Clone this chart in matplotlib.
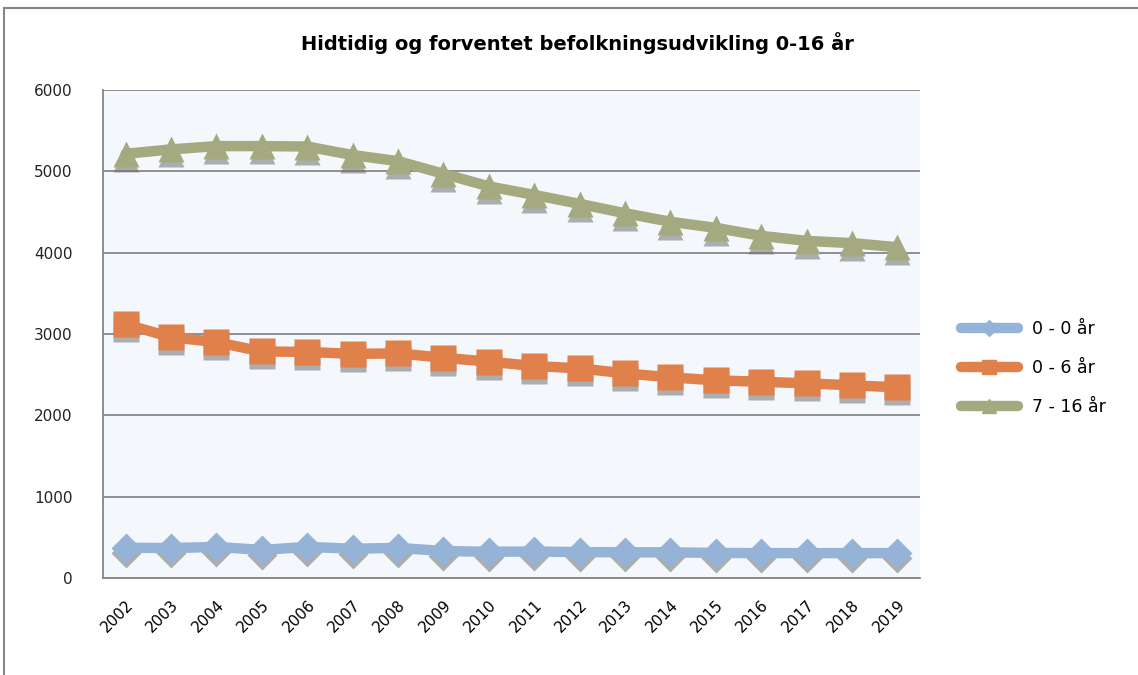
import numpy as np
import matplotlib
matplotlib.use("Agg")
import matplotlib.pyplot as plt
import matplotlib.transforms as mtransforms
from matplotlib.lines import Line2D

# data
years = [str(y) for y in range(2002, 2020)]
age_0_0 = [372, 368, 382, 345, 382, 360, 370, 332, 322, 326, 318, 316, 316, 308, 306, 306, 306, 306]
age_0_6 = [3120, 2960, 2900, 2785, 2780, 2755, 2762, 2708, 2660, 2606, 2578, 2516, 2467, 2430, 2413, 2393, 2369, 2344]
age_7_16 = [5215, 5270, 5310, 5310, 5305, 5200, 5125, 4970, 4815, 4710, 4600, 4485, 4380, 4305, 4207, 4145, 4117, 4067]

series_labels = ["0 - 0 år", "0 - 6 år", "7 - 16 år"]
colors = ["#95b3d7", "#e0804a", "#a4a97f"]
markers = ["D", "s", "^"]
msizes = [15, 19, 19]
yticks = [0, 1000, 2000, 3000, 4000, 5000, 6000]

fig = plt.figure(figsize=(11.38, 6.75), dpi=100)
ax = fig.add_axes([103 / 1138, 1 - 578 / 675, 817 / 1138, 488 / 675])
ax.set_facecolor("#f4f8fc")

x = np.arange(len(years))
# shadow under markers: same markers, shifted down a few pixels
shadow_tr = mtransforms.offset_copy(ax.transData, fig=fig, x=0, y=-5, units="dots")
for vals, c, m, ms in zip([age_0_0, age_0_6, age_7_16], colors, markers, msizes):
    ax.plot(x, vals, ls="none", marker=m, ms=ms, color="#707070", mec="none", alpha=0.55,
            transform=shadow_tr, zorder=2.5)
    ax.plot(x, vals, color=c, lw=7.5, solid_capstyle="round", zorder=3)
    ax.plot(x, vals, ls="none", marker=m, ms=ms, color=c, mec="none", zorder=4)

ax.set_xlim(-0.5, len(years) - 0.5)
ax.set_ylim(0, 6000)
ax.set_yticks(yticks)
ax.set_yticklabels([str(v) for v in yticks], fontsize=11, color="#222222")
ax.set_xticks(x)
ax.set_xticklabels(years, rotation=45, ha="right", va="top", rotation_mode="anchor", fontsize=11)
ax.tick_params(axis="y", length=0, pad=22)
ax.tick_params(axis="x", length=0, pad=14)
ax.grid(axis="y", color="#868686", lw=1.3)
ax.set_axisbelow(True)
for s in ["top", "right"]:
    ax.spines[s].set_visible(False)
for s in ["left", "bottom"]:
    ax.spines[s].set_color("#868686")
    ax.spines[s].set_linewidth(1.3)

fig.text(577 / 1138, 1 - 43 / 675, "Hidtidig og forventet befolkningsudvikling 0-16 år",
         ha="center", va="center", fontsize=14, fontweight="bold")

handles = [Line2D([], [], color=c, lw=7.5, marker=m, ms=ms * 0.55, solid_capstyle="round")
           for c, m, ms in zip(colors, markers, msizes)]
fig.legend(handles, series_labels, loc="center left", bbox_to_anchor=(945 / 1138, 1 - 368 / 675),
           frameon=False, fontsize=12.5, handlelength=3.3, labelspacing=1.2, handletextpad=0.8)

# outer chart frame (top and left edges visible in the reference)
fig.add_artist(Line2D([4 / 1138, 4 / 1138], [0, 1 - 8 / 675], transform=fig.transFigure, color="#868686", lw=1.5))
fig.add_artist(Line2D([4 / 1138, 1], [1 - 8 / 675, 1 - 8 / 675], transform=fig.transFigure, color="#868686", lw=1.5))

fig.savefig("out.png", dpi=100)
